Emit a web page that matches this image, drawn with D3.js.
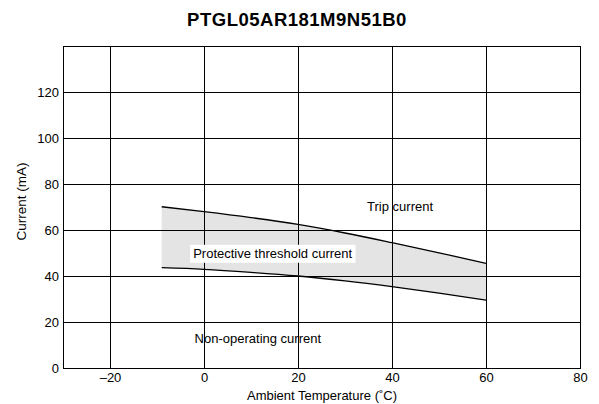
<!DOCTYPE html>
<html><head><meta charset="utf-8">
<script src="https://cdn.jsdelivr.net/npm/d3@7"></script>
<style>body{margin:0;background:#fff}svg{display:block;font-family:"Liberation Sans",Arial,sans-serif}</style>
</head><body><svg id="c" width="599" height="404"></svg>
<script>
const title = "PTGL05AR181M9N51B0";
const temps = [-9, 0, 10, 20, 30, 40, 50, 60];
const tripCurrent = [70.1, 68.0, 65.4, 62.4, 58.7, 54.5, 50.1, 45.5];
const holdCurrent = [43.6, 42.9, 41.6, 40.0, 37.9, 35.4, 32.6, 29.5];
const xTicks = [-20, 0, 20, 40, 60, 80];
const yTicks = [0, 20, 40, 60, 80, 100, 120];
const labels = [
  {text: "Trip current", x: 34.7, y: 68.4, box: false},
  {text: "Protective threshold current", x: -2.3, y: 47.7, box: true},
  {text: "Non-operating current", x: -2.0, y: 10.7, box: false}
];

const svg = d3.select("#c");
const m = {l: 63, r: 580, t: 46, b: 368};
const x = d3.scaleLinear().domain([-30, 80]).range([m.l, m.r]);
const y = d3.scaleLinear().domain([0, 140]).range([m.b, m.t]);

svg.append("text").attr("x", 297).attr("y", 26).attr("text-anchor", "middle")
  .attr("font-weight", "bold").attr("font-size", 18.5).attr("letter-spacing", 0.5).text(title);

const area = d3.area().x((d, i) => x(temps[i])).y0((d, i) => y(holdCurrent[i])).y1((d, i) => y(tripCurrent[i])).curve(d3.curveMonotoneX);
svg.append("path").datum(temps).attr("d", area).attr("fill", "#e4e4e4");

// grid
const g = svg.append("g").attr("stroke", "#000").attr("stroke-width", 1).attr("shape-rendering", "crispEdges");
xTicks.filter(t => t < 80).forEach(t => g.append("line").attr("x1", x(t)).attr("x2", x(t)).attr("y1", m.t).attr("y2", m.b));
yTicks.filter(t => t > 0).forEach(t => g.append("line").attr("x1", m.l).attr("x2", m.r).attr("y1", y(t)).attr("y2", y(t)));
g.append("rect").attr("x", m.l).attr("y", m.t).attr("width", m.r - m.l).attr("height", m.b - m.t).attr("fill", "none");

const line = d3.line().curve(d3.curveMonotoneX);
[tripCurrent, holdCurrent].forEach(s => {
  svg.append("path").attr("d", line(temps.map((t, i) => [x(t), y(s[i])])))
    .attr("fill", "none").attr("stroke", "#000").attr("stroke-width", 1.3);
});

// axes
const xa = svg.append("g").attr("transform", `translate(0,${m.b})`)
  .call(d3.axisBottom(x).tickValues(xTicks).tickSize(0).tickPadding(5).tickFormat(d => d < 0 ? "\u2013" + Math.abs(d) : d));
const ya = svg.append("g").attr("transform", `translate(${m.l},0)`)
  .call(d3.axisLeft(y).tickValues(yTicks).tickSize(0).tickPadding(4));
[xa, ya].forEach(a => { a.select(".domain").remove(); a.selectAll("text").attr("font-size", 13).attr("fill", "#000").style("font-family", "'Liberation Sans',Arial,sans-serif"); });

svg.append("text").attr("x", 322).attr("y", 400).attr("text-anchor", "middle").attr("font-size", 13).text("Ambient Temperature (\u02daC)");
svg.append("text").attr("transform", `translate(26,201.5) rotate(-90)`).attr("text-anchor", "middle").attr("font-size", 13.5).text("Current (mA)");

labels.forEach(l => {
  const t = svg.append("text").attr("x", x(l.x)).attr("y", y(l.y)).attr("font-size", 13).text(l.text);
  if (l.box) {
    const b = t.node().getBBox();
    svg.insert("rect", () => t.node()).attr("x", b.x - 3).attr("y", b.y - 1.5).attr("width", b.width + 6).attr("height", b.height + 3).attr("fill", "#fff");
  }
});
</script></body></html>
